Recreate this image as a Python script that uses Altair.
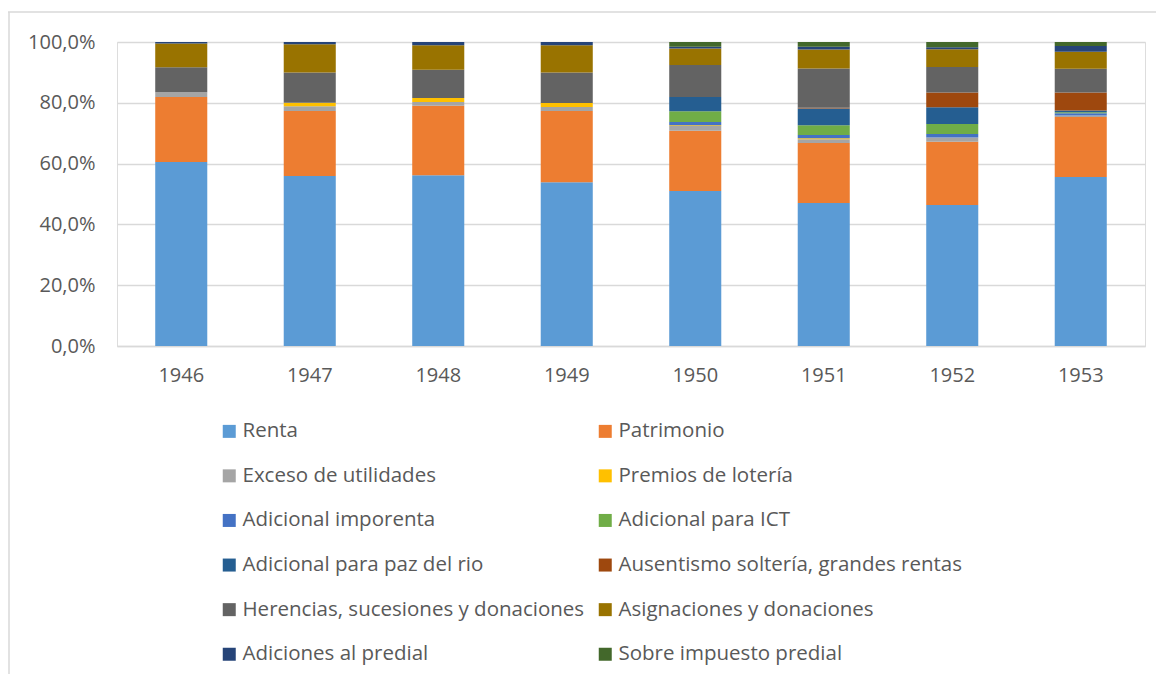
import altair as alt
import pandas as pd

years = ["1946", "1947", "1948", "1949", "1950", "1951", "1952", "1953"]

series = [
    "Renta", "Patrimonio",
    "Exceso de utilidades", "Premios de lotería",
    "Adicional imporenta", "Adicional para ICT",
    "Adicional para paz del rio", "Ausentismo soltería, grandes rentas",
    "Herencias, sucesiones y donaciones", "Asignaciones y donaciones",
    "Adiciones al predial", "Sobre impuesto predial",
]

colors = ["#5B9BD5", "#ED7D31", "#A5A5A5", "#FFC000", "#4472C4", "#70AD47",
          "#255E91", "#9E480E", "#636363", "#997300", "#264478", "#43682B"]

renta        = [60.5, 55.9, 56.2, 53.9, 51.0, 47.0, 46.4, 55.6]
patrimonio   = [21.4, 21.4, 22.8, 23.4, 19.8, 19.8, 20.8, 19.7]
exceso       = [1.6, 1.6, 1.3, 1.3, 1.6, 1.2, 1.4, 0.5]
premios      = [0.0, 1.1, 1.3, 1.3, 0.2, 0.3, 0.0, 0.0]
imporenta    = [0.0, 0.0, 0.0, 0.0, 1.1, 1.1, 1.1, 0.8]
ict          = [0.0, 0.0, 0.0, 0.0, 3.5, 3.2, 3.3, 0.3]
paz_rio      = [0.0, 0.0, 0.0, 0.0, 4.7, 5.5, 5.5, 0.6]
ausentismo   = [0.0, 0.0, 0.0, 0.0, 0.0, 0.3, 4.9, 5.9]
herencias    = [8.2, 10.0, 9.3, 10.1, 10.5, 12.9, 8.4, 7.8]
asignaciones = [7.8, 9.3, 8.0, 8.9, 5.5, 6.2, 5.8, 5.6]
adiciones    = [0.5, 0.7, 1.1, 1.1, 0.5, 0.9, 0.7, 1.9]
sobre        = [0.0, 0.0, 0.0, 0.0, 1.6, 1.6, 1.7, 1.3]

all_values = [renta, patrimonio, exceso, premios, imporenta, ict, paz_rio,
              ausentismo, herencias, asignaciones, adiciones, sobre]

rows = []
for i, (name, vals) in enumerate(zip(series, all_values)):
    for y, v in zip(years, vals):
        rows.append({"year": y, "serie": name, "idx": i, "value": v / 100.0})
df = pd.DataFrame(rows)

FONT = "Open Sans"
TXT = "#595959"
GRID = "#d9d9d9"

bars = alt.Chart(df).mark_bar().encode(
    x=alt.X("year:N", sort=years, title=None,
            scale=alt.Scale(paddingInner=0.595, paddingOuter=0.2975),
            axis=alt.Axis(labelAngle=0, ticks=False, domainColor=GRID, domainWidth=1.5,
                          labelFontSize=20, labelColor=TXT, labelFont=FONT,
                          labelPadding=19, grid=False)),
    y=alt.Y("value:Q", stack="zero", title=None,
            scale=alt.Scale(domain=[0, 1], nice=False),
            axis=alt.Axis(values=[0, 0.2, 0.4, 0.6, 0.8, 1.0],
                          labelExpr="replace(format(datum.value, '.1%'), '.', ',')",
                          ticks=False, domain=False, gridColor=GRID, gridWidth=1.5,
                          labelFontSize=20, labelColor=TXT, labelFont=FONT,
                          labelPadding=22)),
    color=alt.Color("serie:N", title=None,
                    scale=alt.Scale(domain=series, range=colors),
                    legend=alt.Legend(orient="none", legendX=102, legendY=379,
                                      columns=2, direction="horizontal",
                                      symbolType="square", symbolSize=169,
                                      symbolStrokeWidth=0, symbolOpacity=1,
                                      labelFontSize=20.5, labelColor=TXT, labelFont=FONT,
                                      labelOffset=3, labelLimit=500,
                                      rowPadding=23.6, columnPadding=10)),
    order=alt.Order("idx:Q", sort="ascending"),
)

border_top = alt.Chart(alt.Data(values=[{}])).mark_rule(color=GRID, strokeWidth=1.5).encode(
    x=alt.value(-109), x2=alt.value(1039), y=alt.value(-30))
border_left = alt.Chart(alt.Data(values=[{}])).mark_rule(color=GRID, strokeWidth=1.5).encode(
    x=alt.value(-108), y=alt.value(-30), y2=alt.value(640))

chart = alt.layer(bars, border_top, border_left).properties(
    width=1028, height=304,
    autosize=alt.AutoSizeParams(type="none"),
    padding={"left": 109, "top": 34, "right": 11, "bottom": 328},
).configure_view(stroke=None).configure(background="white")

chart.save("out.html", embed_options={"renderer": "svg", "actions": False})
